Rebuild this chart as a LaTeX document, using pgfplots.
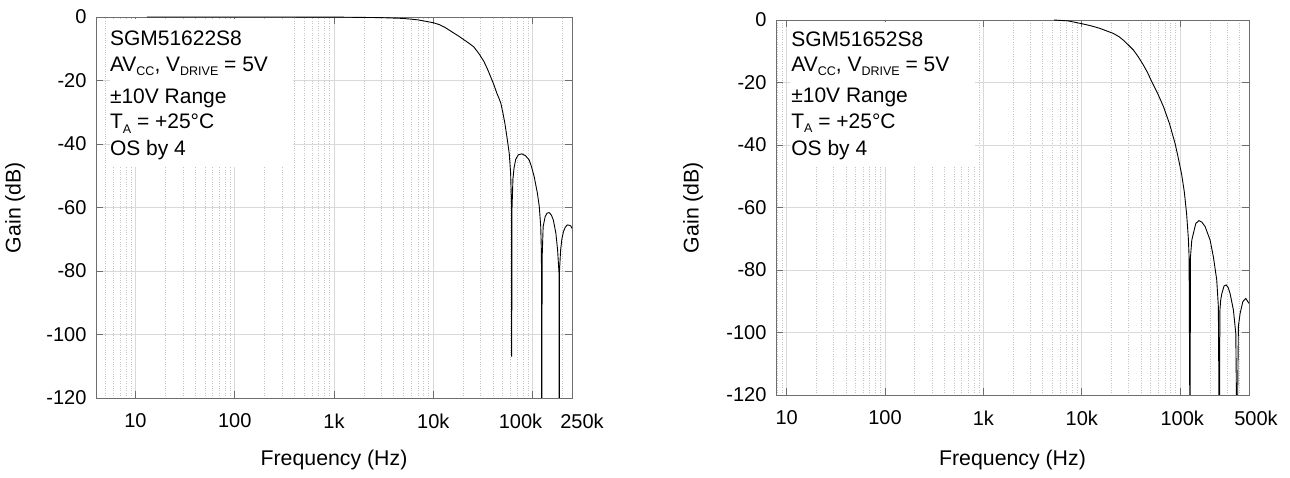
\documentclass[border=0pt]{standalone}
\usepackage{fontspec}
\setmainfont{Liberation Sans}
\usepackage{pgfplots}
\pgfplotsset{compat=1.18}
\definecolor{axisgray}{HTML}{6E6E6E}
\definecolor{gridmaj}{HTML}{D9D9D9}
\definecolor{gridmin}{HTML}{C4C4C4}
\newcommand{\sub}[1]{\raisebox{-4.5pt}{\fontsize{12.5}{14}\selectfont #1}}
\newcommand{\boxfont}{\fontsize{21}{25}\selectfont}
\newcommand{\labfont}{\fontsize{21.3}{25}\selectfont}

\pgfplotstableread{
f g
13 0
100 0
1000 -0.03
3000 -0.2
5000 -0.45
7000 -0.9
10000 -1.8
11500 -2.4
13000 -3.2
16000 -5.0
18000 -6.0
20000 -7.0
22500 -8.1
25600 -9.4
28800 -11.5
32400 -14
35500 -16.7
39000 -19.8
41300 -21.8
43700 -24
45800 -25.5
48000 -27.2
50300 -30.2
52700 -33.5
55800 -38.7
58300 -43
60200 -49.2
61500 -59.7
61700 -107
62200 -60
63500 -51
65200 -47.5
67800 -44.8
72000 -43.4
78000 -43.1
85000 -43.7
92500 -45.0
98000 -47.3
104000 -50.3
112000 -55.5
117000 -59.7
121000 -66
123000 -74.4
124000 -140
125000 -76
128000 -66
134000 -62.9
140000 -61.8
147000 -61.6
155000 -62.4
162000 -63.9
172000 -68.1
179000 -73.4
185000 -80.7
186000 -140
187000 -80
192000 -73.4
198000 -69.8
205000 -67.6
214000 -66.2
224000 -65.5
235000 -65.6
243000 -65.8
250000 -66.6
}\leftdata

\pgfplotstableread{
f g
5200 0
7300 -0.3
10400 -1.3
12500 -1.9
15000 -2.6
20900 -4.3
24000 -5.4
27000 -6.7
33400 -9.6
37500 -11.8
42000 -14.3
46500 -16.8
51300 -19.7
59000 -23.5
67500 -27.7
78000 -33.3
88600 -39.5
95000 -43.8
103500 -49.5
110000 -55
116000 -61.9
121000 -70
123000 -75.7
125800 -140
127000 -76
131000 -70.5
136000 -68.3
144000 -65.1
155000 -64.2
166000 -64.7
179000 -66.1
201000 -70.4
217000 -75.7
235000 -83.2
244000 -91.7
249500 -140
253000 -93
258000 -89.5
265000 -87.5
279000 -85.1
293000 -84.8
307000 -85.6
321000 -87.5
347000 -92.8
367000 -100.3
378000 -140
390000 -98
406000 -93.9
433000 -90.1
464000 -89.1
500000 -90.7
}\rightdata

\pgfplotsset{
  every axis/.append style={
    scale only axis,
    axis line style={axisgray, line width=0.9pt},
    ymin=-120, ymax=0,
    ytick={-120,-100,-80,-60,-40,-20,0},
    yticklabels={-120,-100,-80,-60,-40,-20,0},
    grid=both,
    major grid style={gridmaj, line width=0.8pt},
    minor grid style={gridmin, dotted, line width=0.6pt},
    tick style={axisgray, line width=0.8pt},
    major tick length=7pt, minor tick length=0pt,
    tick align=inside,
    ticklabel style={font=\fontsize{20}{24}\selectfont},
    xticklabel style={yshift=-12pt},
    yticklabel style={xshift=-6pt},
  },
}

\begin{document}
\begin{tikzpicture}
\path[use as bounding box] (0,0) rectangle (1290pt,478pt);

\begin{axis}[xmode=log,
  at={(96pt,80pt)}, anchor=south west,
  width=476pt, height=381pt,
  xmin=4, xmax=250000,
  xtick={10,100,1000,10000,100000,250000},
  xticklabels={10,100,1k,10k,100k\kern24pt,\kern20pt 250k},
  minor xtick={4,5,6,7,8,9,20,30,40,50,60,70,80,90,200,300,400,500,600,700,800,900,2000,3000,4000,5000,6000,7000,8000,9000,20000,30000,40000,50000,60000,70000,80000,90000,200000},
  every axis x label/.style={at={(axis description cs:0.5,-0.163)}, anchor=center, font=\labfont},
  every axis y label/.style={at={(axis description cs:-0.17,0.5)}, rotate=90, anchor=center, font=\labfont},
  xlabel={Frequency (Hz)}, ylabel={Gain (dB)},
]
\fill[white] (rel axis cs:0.029,0.606) rectangle (rel axis cs:0.414,0.994);
\addplot[black, line width=0.9pt] table[x=f, y=g] {\leftdata};
\node[anchor=base west, inner sep=0, font=\boxfont] at (rel axis cs:0.029,0.924) {SGM51622S8};
\node[anchor=base west, inner sep=0, font=\boxfont] at (rel axis cs:0.029,0.857) {AV\sub{CC}, V\sub{DRIVE} = 5V};
\node[anchor=base west, inner sep=0, font=\boxfont] at (rel axis cs:0.029,0.774) {±10V Range};
\node[anchor=base west, inner sep=0, font=\boxfont] at (rel axis cs:0.029,0.707) {T\sub{A} = +25°C};
\node[anchor=base west, inner sep=0, font=\boxfont] at (rel axis cs:0.029,0.636) {OS by 4};
\end{axis}

\begin{axis}[xmode=log,
  at={(776pt,83pt)}, anchor=south west,
  width=473pt, height=375pt,
  xmin=7.8, xmax=500000,
  xtick={10,100,1000,10000,100000,500000},
  xticklabels={10,100,1k,10k,\kern4pt 100k,\kern14pt 500k},
  minor xtick={8,9,20,30,40,50,60,70,80,90,200,300,400,500,600,700,800,900,2000,3000,4000,5000,6000,7000,8000,9000,20000,30000,40000,50000,60000,70000,80000,90000,200000,300000,400000},
  every axis x label/.style={at={(axis description cs:0.5,-0.173)}, anchor=center, font=\labfont},
  every axis y label/.style={at={(axis description cs:-0.175,0.5)}, rotate=90, anchor=center, font=\labfont},
  xlabel={Frequency (Hz)}, ylabel={Gain (dB)},
]
\fill[white] (rel axis cs:0.030,0.608) rectangle (rel axis cs:0.421,0.994);
\addplot[black, line width=0.9pt] table[x=f, y=g] {\rightdata};
\node[anchor=base west, inner sep=0, font=\boxfont] at (rel axis cs:0.032,0.929) {SGM51652S8};
\node[anchor=base west, inner sep=0, font=\boxfont] at (rel axis cs:0.032,0.863) {AV\sub{CC}, V\sub{DRIVE} = 5V};
\node[anchor=base west, inner sep=0, font=\boxfont] at (rel axis cs:0.032,0.779) {±10V Range};
\node[anchor=base west, inner sep=0, font=\boxfont] at (rel axis cs:0.032,0.711) {T\sub{A} = +25°C};
\node[anchor=base west, inner sep=0, font=\boxfont] at (rel axis cs:0.032,0.639) {OS by 4};
\end{axis}
\end{tikzpicture}
\end{document}
